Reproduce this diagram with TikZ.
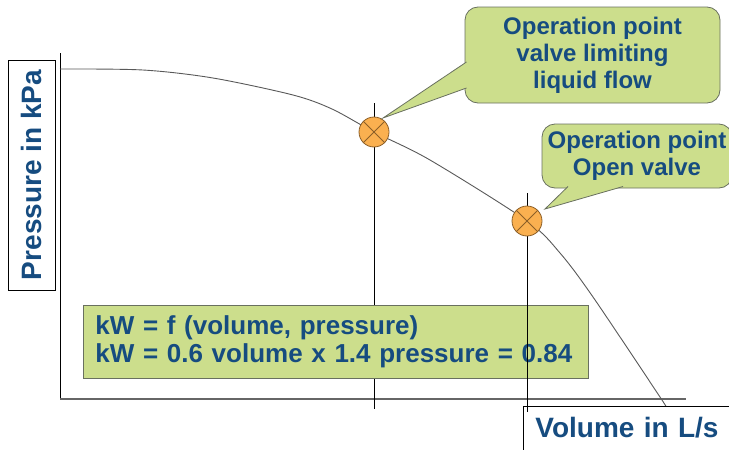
\documentclass[tikz,border=0pt]{standalone}
\usepackage{fontspec}
\setmainfont{Liberation Sans}

\definecolor{labelblue}{RGB}{22,76,128}
\definecolor{boxgreen}{RGB}{204,222,140}
\definecolor{boxline}{RGB}{105,112,95}
\definecolor{pointfill}{RGB}{250,176,80}
\definecolor{pointline}{RGB}{140,95,40}

\begin{document}
\begin{tikzpicture}[x=1pt,y=-1pt]
        \tikzstyle{axislabel}=[draw=black, fill=white, line width=0.8pt, text=labelblue, font=\fontsize{28}{32}\selectfont\bfseries]
        \tikzstyle{bubble}=[draw=boxline, fill=boxgreen, rounded corners=13pt, line width=0.8pt, text=labelblue, font=\fontsize{24}{27}\selectfont\bfseries, align=center]
        \tikzstyle{wedge}=[draw=boxline, fill=boxgreen, line width=0.8pt]
        \tikzstyle{formula}=[draw=boxline, fill=boxgreen, line width=0.8pt, text=labelblue, font=\fontsize{26}{28}\selectfont\bfseries, align=left, inner xsep=12pt]
        \tikzstyle{oppoint}=[circle, draw=pointline, fill=pointfill, minimum size=30pt, inner sep=0pt, line width=0.8pt]
        \tikzstyle{guide}=[black, line width=0.9pt]
        \tikzstyle{curve}=[black!65, line width=0.9pt]

        \useasboundingbox (0,0) rectangle (729,450);

        \coordinate (ytop)   at (60,53);
        \coordinate (origin) at (60,399);
        \coordinate (xend)   at (686,399);
        \draw[black, line width=1pt] (ytop) -- (origin);
        \draw[black!60, line width=1.2pt] (origin) -- (xend);

        \draw[curve] plot[smooth] coordinates {(60,69) (143,70) (213,78) (293,95) (332,109) (374,132) (430,160) (527,221) (560,253) (593,297) (660,397) (666,407)};

        \coordinate (v1top) at (374,103);
        \coordinate (v1bot) at (374,409);
        \coordinate (v2top) at (527,193);
        \coordinate (v2bot) at (527,412);
        \draw[guide] (v1top) -- (v1bot);

        \node[formula, anchor=north west, text width=481pt, minimum height=73pt] (fx) at (83,305)
             {\mbox{kW = f (volume, pressure)}\\ \mbox{kW = 0.6 volume x 1.4 pressure = 0.84}};

        \node[axislabel, anchor=north west, inner xsep=12pt, inner ysep=10.5pt, text width=210pt, align=left, text depth=30pt] (vol) at (523,406) {Volume in L/s};
        \node[axislabel, rotate=90, minimum width=230pt, minimum height=47pt] (pres) at (31.5,175) {Pressure in kPa};

        \draw[guide] (v2top) -- (v2bot);

        \node[oppoint] (p1) at (374,132) {};
        \node[oppoint] (p2) at (527,221) {};
        \draw[pointline, line width=0.8pt] (p1.north west) -- (p1.south east) (p1.north east) -- (p1.south west);
        \draw[pointline, line width=0.8pt] (p2.north west) -- (p2.south east) (p2.north east) -- (p2.south west);

        \node[bubble, minimum width=255pt, minimum height=96pt] (op1) at (592.5,55) {Operation point\\ valve limiting\\ liquid flow};
        \node[bubble, minimum width=190pt, minimum height=64pt] (op2) at (637,156) {Operation point\\ Open valve};

        \coordinate (tip1) at (383,118);
        \coordinate (tip2) at (545,209);
        \path[wedge] (466.5,62) -- (tip1) -- (466.5,88);
        \path[wedge] (568,186.5) -- (tip2) -- (623,186.5);
    \end{tikzpicture}
\end{document}
